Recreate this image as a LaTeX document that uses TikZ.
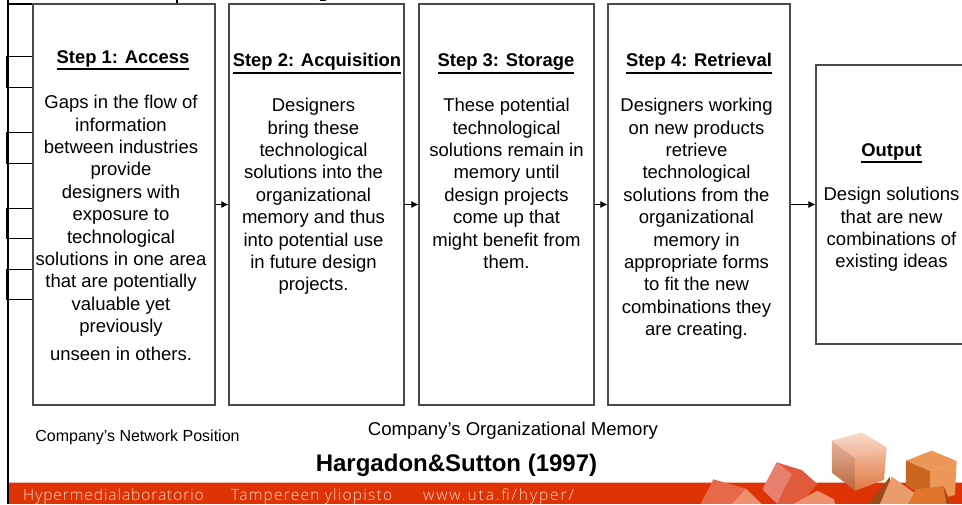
\documentclass[tikz,border=0pt]{standalone}
\usepackage{fontspec}
\setmainfont{Liberation Sans}
\newfontfamily\foota[LetterSpace=6]{Open Sans Light}
\newfontfamily\footb[LetterSpace=8]{Open Sans Light}
\newfontfamily\footc[LetterSpace=12.5]{Open Sans Light}
\usetikzlibrary{arrows.meta}
\definecolor{bandred}{HTML}{DD3305}
\definecolor{boxline}{HTML}{4A4A4A}
\definecolor{footink}{HTML}{FBD8C8}
\definecolor{HTMLa}{HTML}{E8694A}
\definecolor{HTMLb}{HTML}{EE9170}
\definecolor{HTMLc}{HTML}{E88070}
\definecolor{HTMLd}{HTML}{E05A3C}
\definecolor{HTMLe}{HTML}{F8DACB}
\definecolor{HTMLf}{HTML}{EFB193}
\definecolor{HTMLg}{HTML}{E6B299}
\definecolor{HTMLh}{HTML}{B9663A}
\definecolor{HTMLi}{HTML}{F3BFA3}
\definecolor{HTMLj}{HTML}{DF7A42}
\definecolor{HTMLk}{HTML}{EC9658}
\definecolor{HTMLl}{HTML}{C8661E}
\definecolor{HTMLm}{HTML}{9E4A18}
\definecolor{HTMLn}{HTML}{EA9C6C}
\definecolor{HTMLo}{HTML}{E2752E}
\newcommand{\ulined}[1]{\vtop{\hbox{#1}\vskip1.6pt\hrule height 1.6pt}}
\tikzset{
  stage/.style={draw=boxline,line width=1.1pt,rectangle,inner sep=0pt,fill=white},
  gapbox/.style={draw=black,line width=1.2pt,rectangle,inner sep=0pt,minimum width=26pt,minimum height=30.5pt},
  flow/.style={draw=black,line width=1pt,-{Latex[length=7pt,width=7pt]}},
  title/.style={font=\fontsize{18.4}{22.3}\selectfont\bfseries,inner sep=0pt,anchor=base},
  body/.style={font=\fontsize{18.5}{22.4}\selectfont,inner sep=0pt,align=center,anchor=north},
  foot/.style={text=footink,inner sep=0pt,anchor=west},
}
\begin{document}
\begin{tikzpicture}[x=1pt,y=-1pt]
\useasboundingbox (0,0) rectangle (962,504);
\clip (0,0) rectangle (962,504);
\fill[white] (0,0) rectangle (962,504);
% footer band
\fill[bandred] (8,482) rectangle (962,504);
\draw[white!65!bandred,line width=.7pt] (8,482.4) -- (962,482.4);
% cubes, coordinates taken in a 3x grid
\begin{scope}[shift={(660,400)},x=0.3333pt,y=-0.3333pt]
 % lower left cube
 \fill[fill=HTMLa] (122,312) -- (160,238) -- (258,266) -- (215,312) -- cycle;
 \fill[fill=HTMLb] (215,312) -- (258,266) -- (305,312) -- cycle;
 % red cube
 \fill[fill=HTMLc] (307,268) -- (350,187) -- (395,222) -- (352,312) -- cycle;
 \fill[fill=HTMLd] (350,187) -- (425,210) -- (472,252) -- (440,290) -- (400,312) -- (352,312) -- (395,222) -- cycle;
 \fill[fill=HTMLb] (440,290) -- (472,272) -- (522,298) -- (525,312) -- (400,312) -- cycle;
 % pale cube
 \shade[top color=HTMLe, bottom color=HTMLf] (516,122) -- (605,97) -- (680,142) -- (585,175) -- cycle;
 \shade[top color=HTMLg, bottom color=HTMLh] (516,122) -- (585,175) -- (585,272) -- (516,218) -- cycle;
 \shade[top color=HTMLi, bottom color=HTMLj] (585,175) -- (680,142) -- (672,240) -- (585,272) -- cycle;
 % right cube
 \fill[fill=HTMLk] (738,182) -- (815,152) -- (890,183) -- (810,213) -- cycle;
 \fill[fill=HTMLl] (738,182) -- (810,213) -- (810,270) -- (765,272) -- (738,255) -- cycle;
 \fill[fill=HTMLk] (810,213) -- (890,183) -- (885,285) -- (865,290) -- (850,258) -- (810,270) -- cycle;
 % lower cubes
 \fill[fill=HTMLm] (625,312) -- (690,230) -- (690,312) -- cycle;
 \fill[fill=HTMLn] (660,312) -- (695,230) -- (765,280) -- (745,312) -- cycle;
 \fill[fill=HTMLo] (745,312) -- (768,268) -- (850,258) -- (865,312) -- cycle;
 \fill[fill=HTMLm] (850,258) -- (870,312) -- (860,312) -- cycle;
\end{scope}
% outer frame lines
\draw[black,line width=2pt] (8,0) -- (8,504);
\draw[black,line width=1.1pt] (8,4) -- (177,4);
\draw[black,line width=1.1pt] (177,0) -- (177,4);
\draw[black,line width=2pt,line cap=round] (320.5,0.4) -- (325.5,0.4);
% gap boxes
\node[gapbox] (g1) at (20,72) {};
\node[gapbox] (g2) at (20,148) {};
\node[gapbox] (g3) at (20,223.5) {};
\node[gapbox] (g4) at (20,284.5) {};
% stages
\node[stage,minimum width=182pt,minimum height=401pt] (s1) at (124,204.5) {};
\node[stage,minimum width=175pt,minimum height=401pt] (s2) at (316.5,204.5) {};
\node[stage,minimum width=175pt,minimum height=401pt] (s3) at (506.5,204.5) {};
\node[stage,minimum width=182pt,minimum height=401pt] (s4) at (699,204.5) {};
\node[stage,minimum width=150pt,minimum height=279pt] (s5) at (891,204.5) {};
\draw[flow] (s1) -- (s2);
\draw[flow] (s2) -- (s3);
\draw[flow] (s3) -- (s4);
\draw[flow] (s4) -- (s5);
% stage text
\node[title] (t1) at (123,63) {\ulined{Step 1: Access}};
\node[body] (b1) at (121,95) {Gaps in the flow of\\information\\between industries\\provide\\designers with\\exposure to\\technological\\solutions in one area\\that are potentially\\valuable yet\\previously\\[5pt]unseen in others.};
\node[title] (t2) at (317,66.5) {\ulined{Step 2: Acquisition}};
\node[body] (b2) at (313.5,98) {Designers\\bring these\\technological\\solutions into the\\organizational\\memory and thus\\into potential use\\in future design\\projects.};
\node[title] (t3) at (506,66.5) {\ulined{Step 3: Storage}};
\node[body] (b3) at (506.5,98) {These potential\\technological\\solutions remain in\\memory until\\design projects\\come up that\\might benefit from\\them.};
\node[title] (t4) at (699,66.5) {\ulined{Step 4: Retrieval}};
\node[body] (b4) at (696.5,98) {Designers working\\on new products\\retrieve\\technological\\solutions from the\\organizational\\memory in\\appropriate forms\\to fit the new\\combinations they\\are creating.};
\node[title] (t5) at (891.5,156) {\ulined{Output}};
\node[body] (b5) at (891.5,187) {Design solutions\\that are new\\combinations of\\existing ideas};
% captions
\node[inner sep=0pt,font=\fontsize{16}{19}\selectfont] (c1) at (137.5,437) {Company’s Network Position};
\node[inner sep=0pt,font=\fontsize{18.6}{22}\selectfont] (c2) at (513,430.5) {Company’s Organizational Memory};
\node[inner sep=0pt,font=\fontsize{24}{28}\selectfont\bfseries] (c3) at (456.5,465.5) {Hargadon\&Sutton (1997)};
% footer text
\node[foot,font=\fontsize{15.5}{17}\foota] (f1) at (23,496.5) {Hypermedialaboratorio};
\node[foot,font=\fontsize{15.5}{17}\footb] (f2) at (231,496.5) {Tampereen yliopisto};
\node[foot,font=\fontsize{15.5}{17}\footc] (f3) at (423,496.5) {www.uta.fi/hyper/};
\end{tikzpicture}
\end{document}
